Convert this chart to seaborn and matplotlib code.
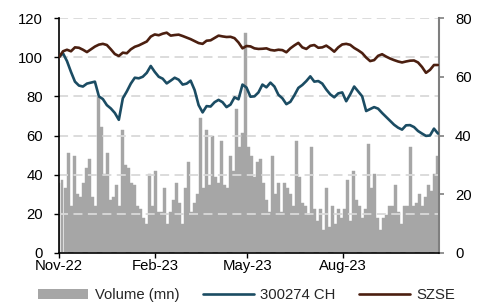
import numpy as np
import pandas as pd
import matplotlib
matplotlib.use("Agg")
import matplotlib.pyplot as plt
import matplotlib.dates as mdates
from matplotlib.patches import Patch
from matplotlib.lines import Line2D
import seaborn as sns

# ---------------- data ----------------
series_names = ["Volume (mn)", "300274 CH", "SZSE"]
x_tick_dates = ["2022-11-01", "2023-02-01", "2023-05-01", "2023-08-01"]
x_tick_labels = ["Nov-22", "Feb-23", "May-23", "Aug-23"]
left_ticks = [0, 20, 40, 60, 80, 100, 120]
right_ticks = [0, 20, 40, 60, 80]
period_start, period_end = "2022-11-01", "2023-10-31"

# indexed price lines (left axis), evenly spaced through the period
szse = [100, 103, 103.8, 103, 105, 104.8, 103.8, 102.6, 104, 105.4, 106.4, 106.8,
        106.2, 104, 101.6, 100.6, 102.3, 102, 104, 105.3, 106, 107, 108, 110.5,
        111.6, 111.2, 112, 112.5, 111, 111.3, 111.5, 110.8, 110, 109.2, 108.2, 107.2,
        106.8, 108.4, 108.6, 109.8, 111, 110.6, 110.3, 110.4, 109.7, 107.5, 104.5, 105.7,
        105.5, 104.5, 104.2, 104.3, 104.5, 103.7, 103.4, 103.8, 103.6, 102.5, 104.5, 106,
        107.3, 105, 104.2, 105.8, 106.2, 104.8, 105, 105.9, 104.5, 102.8, 105, 106.5,
        106.8, 106.3, 104.7, 103.5, 102.1, 99.8, 98, 98.5, 100.7, 101.5, 100.3, 99.3,
        98.5, 97.8, 97.3, 97.8, 98.2, 98.3, 97.3, 95, 92, 93.5, 96, 96]
stock = [100, 102, 98, 92.5, 87.5, 85.5, 85, 86.5, 87, 87.5, 80, 78.6,
         75.5, 73.8, 71.5, 68, 79, 82.5, 86.5, 89.5, 89.2, 90, 92, 95.5,
         92.5, 90, 89, 86.6, 88, 89.5, 88.5, 86, 86.5, 88, 83.2, 75.5,
         71.8, 75, 74.8, 77, 78.2, 77, 74.5, 75.8, 79.5, 78.5, 86, 84.5,
         79.8, 80, 82, 86, 84.6, 87, 85, 80.8, 79, 76, 77.2, 80.5,
         84.3, 85.8, 87.8, 90.2, 87.5, 87.8, 86.5, 83.5, 81, 79.5, 81.5, 82,
         77.5, 81, 85, 82.5, 80, 72.5, 73.5, 74.5, 73.7, 71.5, 69.5, 67.5,
         65.5, 64, 63, 65.2, 65.3, 64.3, 62.3, 61, 59.8, 60, 63.5, 61]

# traded volume in millions (right axis), evenly spaced through the period
volume = [24, 25, 22, 34, 16, 33, 20, 19, 24, 29, 32, 19, 16, 53, 43, 27,
          34, 18, 19, 23, 16, 42, 30, 29, 24, 23, 16, 15, 12, 10, 27, 16,
          28, 14, 14, 22, 10, 14, 18, 24, 17, 10, 22, 31, 14, 17, 20, 46,
          22, 42, 23, 40, 26, 24, 38, 23, 22, 33, 28, 49, 36, 41, 75, 36,
          33, 26, 31, 32, 24, 18, 14, 33, 20, 24, 14, 24, 22, 20, 16, 38,
          26, 17, 16, 13, 36, 15, 11, 15, 8, 22, 9, 16, 10, 15, 12, 15,
          25, 11, 28, 18, 16, 12, 15, 37, 22, 27, 12, 8, 12, 13, 16, 16,
          23, 14, 10, 16, 16, 36, 16, 17, 20, 16, 19, 23, 21, 27, 33]

# ---------------- frames ----------------
line_dates = pd.date_range(period_start, period_end, periods=len(szse))
lines_df = pd.concat([
    pd.DataFrame({"date": line_dates, "value": stock, "series": series_names[1]}),
    pd.DataFrame({"date": line_dates, "value": szse, "series": series_names[2]}),
])
vol_dates = pd.date_range(period_start, period_end, periods=len(volume))

# ---------------- style ----------------
sns.set_theme(style="white")
plt.rcParams["font.family"] = ["Liberation Sans", "DejaVu Sans"]
FS = 10.7
GRAY = "#A6A6A6"
TEAL = "#1B4C63"
BROWN = "#4B1F10"
palette = {series_names[1]: TEAL, series_names[2]: BROWN}

fig = plt.figure(figsize=(4.93, 3.04), dpi=100)
ax = fig.add_axes([59 / 493, 1 - 253 / 304, 380 / 493, 235 / 304])

# volume bars on the right axis
bar_w = (pd.Timestamp(period_end) - pd.Timestamp(period_start)).days / len(volume)
ax.bar(vol_dates, volume, width=bar_w, color=GRAY, edgecolor=GRAY, linewidth=0.3, zorder=1)

# price lines on a twin axis, labelled on the left
ax2 = ax.twinx()
sns.lineplot(data=lines_df, x="date", y="value", hue="series", palette=palette,
             linewidth=1.9, ax=ax2, legend=False, zorder=3)

ax.set_ylim(0, 80)
ax.set_yticks(right_ticks)
ax.yaxis.tick_right()
ax.yaxis.set_label_position("right")
for s in ax.spines.values():
    s.set_visible(False)

ax2.set_ylim(0, 120)
ax2.set_yticks(left_ticks)
ax2.yaxis.tick_left()
ax2.yaxis.set_label_position("left")
ax2.set_ylabel("")
ax2.set_xlabel("")
ax.set_xlabel("")
ax.set_ylabel("")
ax2.set_axisbelow(True)
ax2.grid(axis="y", color="#D9D9D9", linestyle=(0, (5, 3)), linewidth=1.3)
ax2.grid(axis="x", visible=False)
ax.grid(False)

ax.set_xlim(pd.Timestamp("2022-11-01"), pd.Timestamp("2023-11-01"))
ax.set_xticks(pd.to_datetime(x_tick_dates))
ax.set_xticklabels(x_tick_labels)

for sname, s in ax2.spines.items():
    s.set_visible(True)
    s.set_linewidth(1.2)
    s.set_color("black")
ax2.spines["top"].set_visible(False)
ax2.spines["right"].set_color("#7F7F7F")
ax2.spines["right"].set_linewidth(1.5)

ax.tick_params(axis="x", which="both", bottom=True, direction="out", length=3.5,
               width=1, color="black", pad=1, labelsize=FS, labelcolor="black")
ax.tick_params(axis="y", right=True, left=False, labelright=True, labelleft=False,
               direction="out", length=3.5, width=1.2, color="#7F7F7F", pad=8,
               labelsize=FS, labelcolor="black")
ax2.tick_params(axis="y", left=True, right=False, labelleft=True, labelright=False,
                direction="out", length=3.5, width=1, color="black", pad=8,
                labelsize=FS, labelcolor="black")

handles = [Patch(facecolor=GRAY, edgecolor="none"),
           Line2D([0], [0], color=TEAL, lw=1.9),
           Line2D([0], [0], color=BROWN, lw=1.9)]
fig.legend(handles, series_names, loc="center", bbox_to_anchor=(0.5, 9 / 304),
           ncol=3, frameon=False, fontsize=FS, handlelength=3.4,
           handletextpad=0.45, columnspacing=1.6, borderpad=0, borderaxespad=0)

fig.savefig("out.png", dpi=100)
